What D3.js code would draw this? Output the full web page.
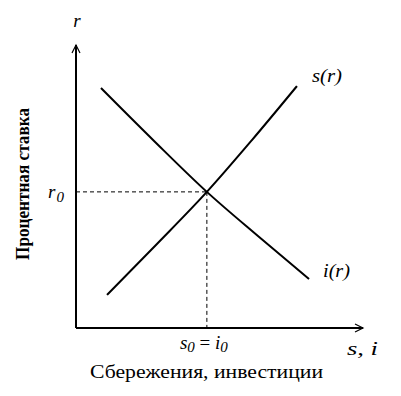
<!DOCTYPE html>
<html>
<head>
<meta charset="utf-8">
<script src="https://d3js.org/d3.v7.min.js"></script>
<style>
  body { margin: 0; background: #fff; }
  text { font-family: "Liberation Serif", "Times New Roman", serif; fill: #000; }
</style>
</head>
<body>
<script>
// curve data (x = s or i, y = r), in 0..100 units
var sCurveX = [10.8, 28.2, 45.6, 61.3, 77.0];
var sCurveY = [11.7, 29.7, 48.1, 66.4, 85.5];
var iCurveX = [8.7, 27.2, 45.6, 63.4, 81.2];
var iCurveY = [84.8, 66.1, 48.1, 32.5, 17.3];
var eqX = 45.6, eqR = 48.1;

var width = 401, height = 396;
var svg = d3.select("body").append("svg").attr("width", width).attr("height", height);

var x = d3.scaleLinear().domain([0, 100]).range([76, 363]);
var y = d3.scaleLinear().domain([0, 100]).range([328, 45]);

var line = d3.line().x(function(d) { return x(d[0]); }).y(function(d) { return y(d[1]); }).curve(d3.curveMonotoneX);

//axes
svg.append("line").attr("x1", x(0)).attr("y1", y(0)).attr("x2", x(0)).attr("y2", y(100))
  .attr("stroke", "#000").attr("stroke-width", 2);
svg.append("line").attr("x1", x(0)).attr("y1", y(0)).attr("x2", x(100)).attr("y2", y(0))
  .attr("stroke", "#000").attr("stroke-width", 2);
// arrow heads
svg.append("path").attr("d", "M" + (x(0) - 4) + "," + (y(100) + 8) + "L" + x(0) + "," + y(100) + "L" + (x(0) + 4) + "," + (y(100) + 8))
  .attr("fill", "none").attr("stroke", "#000").attr("stroke-width", 1.2);
svg.append("path").attr("d", "M" + (x(100) - 8) + "," + (y(0) - 4) + "L" + x(100) + "," + y(0) + "L" + (x(100) - 8) + "," + (y(0) + 4))
  .attr("fill", "none").attr("stroke", "#000").attr("stroke-width", 1.2);

//dashed guides
svg.append("line").attr("x1", x(0)).attr("y1", y(eqR)).attr("x2", x(eqX)).attr("y2", y(eqR))
  .attr("stroke", "#000").attr("stroke-width", 1).attr("stroke-dasharray", "4,3");
svg.append("line").attr("x1", x(eqX)).attr("y1", y(eqR)).attr("x2", x(eqX)).attr("y2", y(0))
  .attr("stroke", "#000").attr("stroke-width", 1).attr("stroke-dasharray", "4,3");

//curves
svg.append("path").datum(d3.zip(sCurveX, sCurveY)).attr("d", line)
  .attr("fill", "none").attr("stroke", "#000").attr("stroke-width", 2);
svg.append("path").datum(d3.zip(iCurveX, iCurveY)).attr("d", line)
  .attr("fill", "none").attr("stroke", "#000").attr("stroke-width", 2);

//labels
svg.append("text").attr("x", 77).attr("y", 27).attr("text-anchor", "middle")
  .attr("font-size", 19).attr("font-style", "italic").text("r");
svg.append("text").attr("x", 312).attr("y", 82).attr("font-size", 19).attr("font-style", "italic")
  .attr("textLength", 30).attr("lengthAdjust", "spacingAndGlyphs").text("s(r)");
svg.append("text").attr("x", 323).attr("y", 277).attr("font-size", 19).attr("font-style", "italic")
  .attr("textLength", 27).attr("lengthAdjust", "spacingAndGlyphs").text("i(r)");

var r0 = svg.append("text").attr("x", 48).attr("y", 198).attr("font-size", 19).attr("font-style", "italic");
r0.append("tspan").text("r");
r0.append("tspan").attr("dx", 1).attr("dy", 4).attr("font-size", 15).text("0");

var eq = svg.append("text").attr("x", x(eqX) - 3).attr("y", 349).attr("text-anchor", "middle")
  .attr("font-size", 19).attr("font-style", "italic");
eq.append("tspan").text("s");
eq.append("tspan").attr("dy", 3).attr("font-size", 15).text("0");
eq.append("tspan").attr("dy", -3).attr("font-style", "normal").text(" = ");
eq.append("tspan").text("i");
eq.append("tspan").attr("dy", 3).attr("font-size", 15).text("0");

svg.append("text").attr("x", 347).attr("y", 355).attr("font-size", 19).attr("font-style", "italic")
  .attr("textLength", 31).attr("lengthAdjust", "spacingAndGlyphs").text("s, i");

svg.append("text").attr("x", 90).attr("y", 378)
  .attr("font-size", 18).attr("textLength", 233).attr("lengthAdjust", "spacingAndGlyphs").text("Сбережения, инвестиции");
svg.append("text").attr("transform", "translate(29,184) rotate(-90)").attr("text-anchor", "middle")
  .attr("font-size", 19).attr("font-weight", "bold")
  .attr("textLength", 152).attr("lengthAdjust", "spacingAndGlyphs").text("Процентная ставка");
</script>
</body>
</html>
